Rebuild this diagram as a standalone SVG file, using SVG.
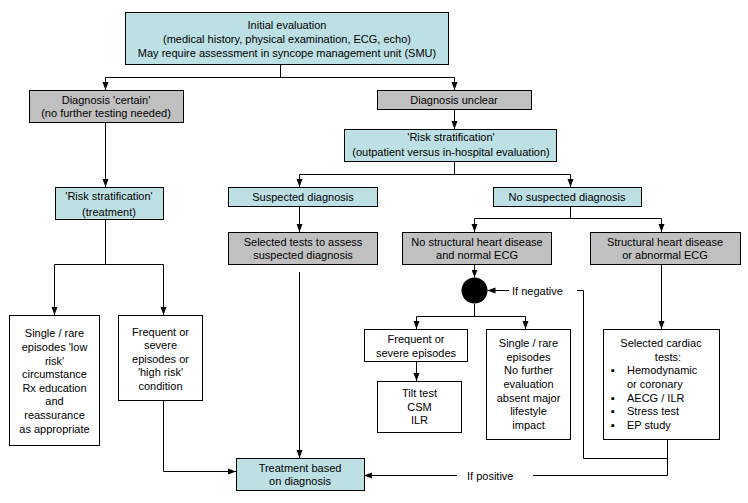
<svg xmlns="http://www.w3.org/2000/svg" width="748" height="503" viewBox="0 0 748 503">
<style>
.b{fill:#BDE0E4;stroke:#000;stroke-width:1}
.g{fill:#C0C0C0;stroke:#000;stroke-width:1}
.w{fill:#fff;stroke:#000;stroke-width:1}
text{font-family:"Liberation Sans",Arial,sans-serif;font-size:11px;fill:#000}
.c{text-anchor:middle}
.l{fill:none;stroke:#000;stroke-width:1}
</style>
<defs>
<marker id="a" viewBox="0 0 8 8" refX="8" refY="4" markerWidth="8" markerHeight="8" markerUnits="userSpaceOnUse" orient="auto">
<path d="M0,1 L8,4 L0,7 Z" fill="#000"/>
</marker>
</defs>
<rect width="748" height="503" fill="#fff"/>
<g id="connectors">
<path class="l" d="M280.5,64 V77.5 H105.5 V90" marker-end="url(#a)"/>
<path class="l" d="M280.5,77.5 H454.5 V90" marker-end="url(#a)"/>
<path class="l" d="M454.5,109 V129" marker-end="url(#a)"/>
<path class="l" d="M105.5,122 V187" marker-end="url(#a)"/>
<path class="l" d="M454.5,161 V174.5 H299.5 V187" marker-end="url(#a)"/>
<path class="l" d="M454.5,174.5 H570.5 V187" marker-end="url(#a)"/>
<path class="l" d="M299.5,206 V232" marker-end="url(#a)"/>
<path class="l" d="M570.5,206 V218.5 H474.5 V232" marker-end="url(#a)"/>
<path class="l" d="M570.5,218.5 H661.5 V232" marker-end="url(#a)"/>
<path class="l" d="M105.5,219 V264.5 H54.5 V315" marker-end="url(#a)"/>
<path class="l" d="M105.5,264.5 H163.5 V315" marker-end="url(#a)"/>
<path class="l" d="M474.5,264 V277.5" marker-end="url(#a)"/>
<path class="l" d="M474.5,304 V316.5 H416.5 V329" marker-end="url(#a)"/>
<path class="l" d="M474.5,316.5 H525.5 V329" marker-end="url(#a)"/>
<path class="l" d="M416.5,362 V381" marker-end="url(#a)"/>
<path class="l" d="M661.5,264 V329" marker-end="url(#a)"/>
<path class="l" d="M299.5,272 V458" marker-end="url(#a)"/>
<path class="l" d="M163.5,400 V471.5 H236" marker-end="url(#a)"/>
<path class="l" d="M667.5,439 V475.5 H533"/>
<path class="l" d="M457,475.5 H364" marker-end="url(#a)"/>
<path class="l" d="M667.5,458.5 H583.5 V290.5 H577"/>
<path class="l" d="M509,290.5 H487.5" marker-end="url(#a)"/>
<circle cx="474.5" cy="290.5" r="13" fill="#000"/>
<text x="467" y="479.5">If positive</text>
<text x="512" y="294.5">If negative</text>
</g>
<g id="initial">
<rect class="b" x="125.5" y="12.5" width="323" height="52"/>
<text class="c" x="287" y="29">Initial evaluation</text>
<text class="c" x="287" y="43">(medical history, physical examination, ECG, echo)</text>
<text class="c" x="287" y="56.5">May require assessment in syncope management unit (SMU)</text>
</g>
<g id="certain">
<rect class="g" x="29.5" y="90.5" width="154" height="32"/>
<text class="c" x="106" y="104">Diagnosis 'certain'</text>
<text class="c" x="106" y="117">(no further testing needed)</text>
</g>
<g id="unclear">
<rect class="g" x="377.5" y="90.5" width="154" height="19"/>
<text class="c" x="454" y="104">Diagnosis unclear</text>
</g>
<g id="riskmid">
<rect class="b" x="344.5" y="129.5" width="212" height="32"/>
<text class="c" x="451" y="141">'Risk stratification'</text>
<text class="c" x="451" y="155.5">(outpatient versus in-hospital evaluation)</text>
</g>
<g id="risktreat">
<rect class="b" x="55.5" y="187.5" width="108" height="32"/>
<text class="c" x="109" y="200">'Risk stratification'</text>
<text class="c" x="109" y="216">(treatment)</text>
</g>
<g id="suspected">
<rect class="b" x="228.5" y="187.5" width="149" height="19"/>
<text class="c" x="303" y="200.5">Suspected diagnosis</text>
</g>
<g id="nosuspected">
<rect class="b" x="493.5" y="187.5" width="148" height="19"/>
<text class="c" x="567" y="200.5">No suspected diagnosis</text>
</g>
<g id="selected">
<rect class="g" x="228.5" y="232.5" width="149" height="32"/>
<text class="c" x="303" y="245.5">Selected tests to assess</text>
<text class="c" x="303" y="259">suspected diagnosis</text>
</g>
<g id="nostructural">
<rect class="g" x="402.5" y="232.5" width="149" height="32"/>
<text class="c" x="477" y="245.5">No structural heart disease</text>
<text class="c" x="477" y="259">and normal ECG</text>
</g>
<g id="structural">
<rect class="g" x="590.5" y="232.5" width="150" height="32"/>
<text class="c" x="665" y="245.5">Structural heart disease</text>
<text class="c" x="665" y="259">or abnormal ECG</text>
</g>
<g id="singleleft">
<rect class="w" x="9.5" y="315.5" width="90" height="130"/>
<text class="c" x="54.5" y="337">Single / rare</text>
<text class="c" x="54.5" y="351">episodes 'low</text>
<text class="c" x="54.5" y="365">risk'</text>
<text class="c" x="54.5" y="378">circumstance</text>
<text class="c" x="54.5" y="392">Rx education</text>
<text class="c" x="54.5" y="405">and</text>
<text class="c" x="54.5" y="419">reassurance</text>
<text class="c" x="54.5" y="433">as appropriate</text>
</g>
<g id="frequentleft">
<rect class="w" x="118.5" y="315.5" width="84" height="85"/>
<text class="c" x="160.5" y="336">Frequent or</text>
<text class="c" x="160.5" y="349">severe</text>
<text class="c" x="160.5" y="363">episodes or</text>
<text class="c" x="160.5" y="376">'high risk'</text>
<text class="c" x="160.5" y="390">condition</text>
</g>
<g id="frequentmid">
<rect class="w" x="364.5" y="329.5" width="103" height="32"/>
<text class="c" x="416" y="343">Frequent or</text>
<text class="c" x="416" y="356.5">severe episodes</text>
</g>
<g id="tilt">
<rect class="w" x="377.5" y="381.5" width="84" height="51"/>
<text class="c" x="419.5" y="396.5">Tilt test</text>
<text class="c" x="419.5" y="410.5">CSM</text>
<text class="c" x="419.5" y="424">ILR</text>
</g>
<g id="singlemid">
<rect class="w" x="486.5" y="329.5" width="84" height="110"/>
<text class="c" x="528.5" y="347">Single / rare</text>
<text class="c" x="528.5" y="360.5">episodes</text>
<text class="c" x="528.5" y="374">No further</text>
<text class="c" x="528.5" y="388">evaluation</text>
<text class="c" x="528.5" y="402">absent major</text>
<text class="c" x="528.5" y="415">lifestyle</text>
<text class="c" x="528.5" y="429">impact</text>
</g>
<g id="cardiac">
<rect class="w" x="603.5" y="329.5" width="116" height="110"/>
<text class="c" x="661" y="347">Selected cardiac</text>
<text class="c" x="668" y="360.5">tests:</text>
<text x="611" y="374">▪</text>
<text x="627" y="374">Hemodynamic</text>
<text x="627" y="388">or coronary</text>
<text x="611" y="402">▪</text>
<text x="627" y="402">AECG / ILR</text>
<text x="611" y="415">▪</text>
<text x="627" y="415">Stress test</text>
<text x="611" y="429">▪</text>
<text x="627" y="429">EP study</text>
</g>
<g id="treatment">
<rect class="b" x="236.5" y="458.5" width="128" height="32"/>
<text class="c" x="300" y="471.5">Treatment based</text>
<text class="c" x="300" y="485">on diagnosis</text>
</g>
</svg>
